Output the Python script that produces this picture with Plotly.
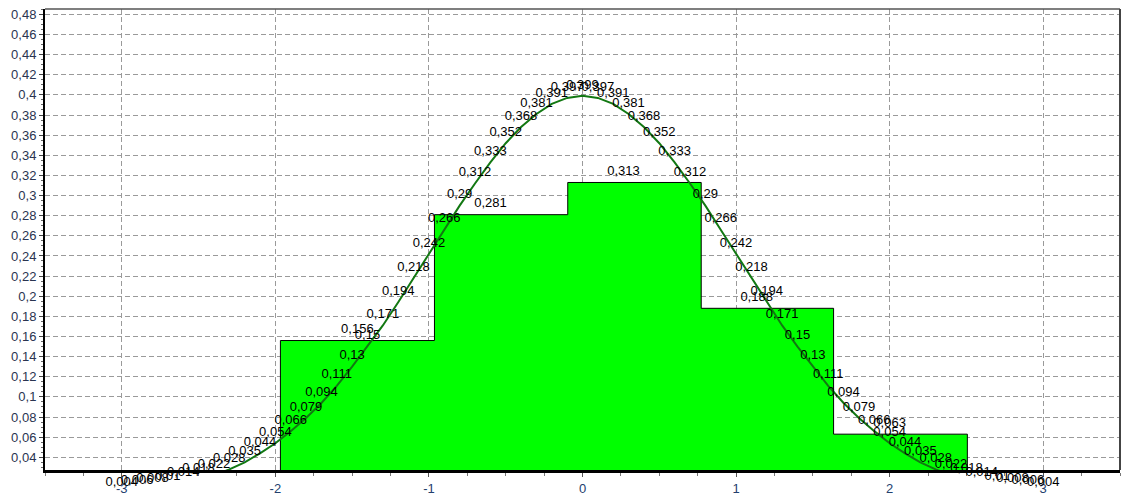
import plotly.graph_objects as go

# ---- data ----
curve_x = [-3.0, -2.9, -2.8, -2.7, -2.6, -2.5, -2.4, -2.3, -2.2, -2.1,
           -2.0, -1.9, -1.8, -1.7, -1.6, -1.5, -1.4, -1.3, -1.2, -1.1,
           -1.0, -0.9, -0.8, -0.7, -0.6, -0.5, -0.4, -0.3, -0.2, -0.1,
           0.0,
           0.1, 0.2, 0.3, 0.4, 0.5, 0.6, 0.7, 0.8, 0.9, 1.0,
           1.1, 1.2, 1.3, 1.4, 1.5, 1.6, 1.7, 1.8, 1.9, 2.0,
           2.1, 2.2, 2.3, 2.4, 2.5, 2.6, 2.7, 2.8, 2.9, 3.0]
curve_y = [0.004, 0.006, 0.008, 0.010, 0.014, 0.018, 0.022, 0.028, 0.035, 0.044,
           0.054, 0.066, 0.079, 0.094, 0.111, 0.130, 0.150, 0.171, 0.194, 0.218,
           0.242, 0.266, 0.290, 0.312, 0.333, 0.352, 0.368, 0.381, 0.391, 0.397,
           0.399,
           0.397, 0.391, 0.381, 0.368, 0.352, 0.333, 0.312, 0.290, 0.266, 0.242,
           0.218, 0.194, 0.171, 0.150, 0.130, 0.111, 0.094, 0.079, 0.066, 0.054,
           0.044, 0.035, 0.028, 0.022, 0.018, 0.014, 0.010, 0.008, 0.006, 0.004]

bin_edges = [-1.967, -0.964, -0.096, 0.773, 1.635, 2.506]
bin_heights = [0.156, 0.281, 0.313, 0.188, 0.063]
class_mid = [-1.466, -0.599, 0.267, 1.134, 2.0]

x_tick_vals = [-3, -2, -1, 0, 1, 2, 3]
x_tick_text = ["-3", "-2", "-1", "0", "1", "2", "3"]
y_tick_vals = [0.04, 0.06, 0.08, 0.10, 0.12, 0.14, 0.16, 0.18, 0.20, 0.22, 0.24,
               0.26, 0.28, 0.30, 0.32, 0.34, 0.36, 0.38, 0.40, 0.42, 0.44, 0.46, 0.48]
y_tick_text = ["0,04", "0,06", "0,08", "0,1", "0,12", "0,14", "0,16", "0,18", "0,2",
               "0,22", "0,24", "0,26", "0,28", "0,3", "0,32", "0,34", "0,36", "0,38",
               "0,4", "0,42", "0,44", "0,46", "0,48"]

X_RANGE = [-3.5, 3.5]
Y_RANGE = [0.0274, 0.4853]


def fmt(v):
    s = f"{v:.3f}".rstrip("0").rstrip(".")
    return s.replace(".", ",")


# step polygon for histogram
poly_x = [bin_edges[0]]
poly_y = [0]
for i, h in enumerate(bin_heights):
    poly_x += [bin_edges[i], bin_edges[i + 1]]
    poly_y += [h, h]
poly_x += [bin_edges[-1], bin_edges[0]]
poly_y += [0, 0]

FONT = "Liberation Sans"
PAGE_OFF = 8                      # default body margin of the html page
W, H = 1133 - PAGE_OFF, 497 - PAGE_OFF
M_T, M_B, M_L, M_R = 9 - PAGE_OFF, 0, 45 - PAGE_OFF, 13
AXIS_BOTTOM = 470 - PAGE_OFF      # where the x axis line sits (figure px)
plot_h = H - M_T - M_B
dom0 = (H - M_B - AXIS_BOTTOM) / plot_h
# overlay axis (labels only) spanning down to the figure bottom with the same scale
y2_min = Y_RANGE[0] - (Y_RANGE[1] - Y_RANGE[0]) * dom0 / (1 - dom0)

LABEL_MARKER = dict(size=5, color="rgba(0,0,0,0)")

fig = go.Figure()
fig.add_trace(go.Scatter(
    x=poly_x, y=poly_y, mode="lines", fill="toself",
    fillcolor="#00ff00", line=dict(color="black", width=1),
    hoverinfo="skip", showlegend=False))

fig.add_trace(go.Scatter(
    x=curve_x, y=curve_y, mode="lines",
    line=dict(color="#127812", width=2),
    hoverinfo="skip", showlegend=False))

fig.add_trace(go.Scatter(
    x=class_mid, y=bin_heights, mode="markers+text",
    marker=LABEL_MARKER,
    text=[fmt(v) for v in bin_heights], textposition="top center",
    textfont=dict(family=FONT, size=13, color="black"),
    cliponaxis=False, showlegend=False))

fig.add_trace(go.Scatter(
    x=curve_x, y=curve_y, mode="markers+text", xaxis="x2", yaxis="y2",
    marker=LABEL_MARKER,
    text=[fmt(v) for v in curve_y], textposition="top center",
    textfont=dict(family=FONT, size=13, color="black"),
    cliponaxis=False, showlegend=False))

grid = dict(showgrid=True, gridcolor="#9a9a9a", gridwidth=1, griddash="5px,3px")

fig.update_layout(
    width=W, height=H,
    margin=dict(l=M_L, r=M_R, t=M_T, b=M_B),
    plot_bgcolor="rgba(0,0,0,0)", paper_bgcolor="white",
    showlegend=False,
    xaxis=dict(
        range=X_RANGE, tickvals=x_tick_vals, ticktext=x_tick_text,
        showline=True, linecolor="black", linewidth=3,
        ticks="outside", ticklen=4, tickcolor="#555",
        minor=dict(dtick=0.25, ticks="outside", ticklen=3, tickcolor="#777", showgrid=False),
        tickfont=dict(family=FONT, size=13, color="#23406e"),
        ticklabeloverflow="allow",
        zeroline=False, automargin=False, anchor="y", **grid),
    yaxis=dict(
        range=Y_RANGE, domain=[dom0, 1], tickvals=y_tick_vals, ticktext=y_tick_text,
        showline=True, linecolor="black", linewidth=2,
        ticks="outside", ticklen=4, tickcolor="#444",
        minor=dict(dtick=0.005, ticks="outside", ticklen=2, tickcolor="#666", showgrid=False),
        tickfont=dict(family=FONT, size=13, color="#2a3450"),
        ticklabeloverflow="allow",
        zeroline=False, automargin=False, anchor="x", **grid),
    xaxis2=dict(range=X_RANGE, visible=False, showgrid=False, zeroline=False,
                anchor="y2", automargin=False),
    yaxis2=dict(range=[y2_min, Y_RANGE[1]], domain=[0, 1], visible=False,
                showgrid=False, zeroline=False, anchor="x2", automargin=False),
    shapes=[
        dict(type="line", xref="paper", yref="paper", x0=0, x1=1, y0=1, y1=1,
             line=dict(color="#555", width=1.5)),
        dict(type="line", xref="paper", yref="paper", x0=1, x1=1, y0=dom0, y1=1,
             line=dict(color="#444", width=2)),
    ],
)

fig.write_html("out.html")
